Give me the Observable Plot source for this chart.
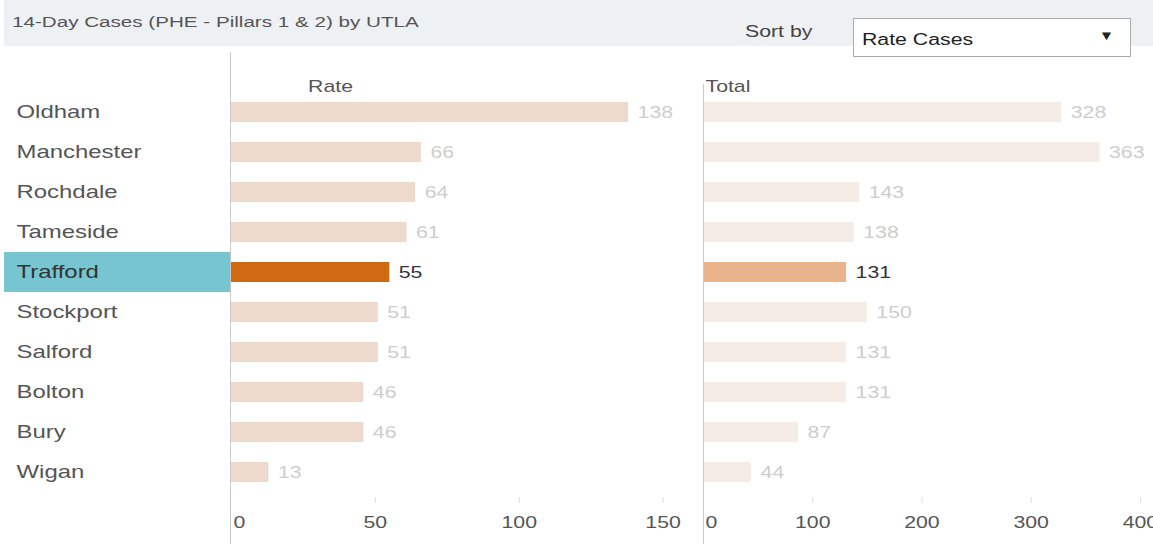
<!DOCTYPE html>
<html><head><meta charset="utf-8">
<script src="https://cdn.jsdelivr.net/npm/d3@7"></script>
<script src="https://cdn.jsdelivr.net/npm/@observablehq/plot@0.6"></script>
<style>
body{margin:0;background:#fff;font-family:"Liberation Sans",Arial,sans-serif;width:1153px;height:544px;overflow:hidden}
#header{position:relative;height:46px;margin-left:4px;background:#eef1f3}
.s{position:absolute;white-space:nowrap;transform-origin:0 50%;transform:scaleX(1.33);font-size:16px;line-height:18px;color:#555}
#box{position:absolute;left:849px;top:18px;width:276px;height:37px;border:1px solid #aaa;background:#fff;z-index:2}
#arrow{position:absolute;left:246px;top:10px;font-size:13px;line-height:14px;color:#222;transform:scaleX(1.2)}
#charts{display:flex;position:relative}
#charts svg{overflow:visible}
</style></head>
<body>
<div id="header">
  <div class="s" id="title" style="left:8px;top:13px;font-size:15.5px"></div>
  <div class="s" id="sortlbl" style="left:741px;top:23px;color:#444"></div>
  <div id="box">
    <div class="s" id="sortval" style="left:8px;top:12px;color:#222"></div>
    <div id="arrow">▼</div>
  </div>
</div>
<div id="charts"></div>
<script>
const titleText = "14-Day Cases (PHE - Pillars 1 & 2) by UTLA";
const sortLabel = "Sort by";
const sortValue = "Rate Cases";
const areas = ["Oldham","Manchester","Rochdale","Tameside","Trafford","Stockport","Salford","Bolton","Bury","Wigan"];
const rateValues = [138,66,64,61,55,51,51,46,46,13];
const totalValues = [328,363,143,138,131,150,131,131,87,44];
const selected = "Trafford";
const rateTicks = [0,50,100,150];
const totalTicks = [0,100,200,300,400];
const panelTitles = ["Rate","Total"];

document.getElementById("title").textContent = titleText;
document.getElementById("sortlbl").textContent = sortLabel;
document.getElementById("sortval").textContent = sortValue;

const rows = areas.map((a,i)=>({area:a, rate:rateValues[i], total:totalValues[i]}));
const SX = 1.33;
const font = '"Liberation Sans", Arial, sans-serif';
const isSel = d => d.area === selected;

function stretch(svg){
  svg.querySelectorAll("text").forEach(t=>{
    const tr = t.getAttribute("transform");
    if (tr) t.setAttribute("transform", tr + ` scale(${SX},1)`);
  });
  return svg;
}

const common = {
  height: 498, marginTop: 46, marginBottom: 52,
  y: {domain: areas, padding: 0, axis: null},
  color: {type: "identity"},
  style: {fontFamily: font, fontSize: "16px", color: "#555", background: "transparent", overflow: "visible"}
};

const left = Plot.plot({
  ...common,
  width: 700, marginLeft: 231, marginRight: 0,
  x: {domain: [0,163], axis: null, label: null},
  marks: [
    Plot.barX(rows.filter(isSel), {x1: 0, x2: 0, y: "area", fill: "#76c5d0", insetLeft: -227}),
    Plot.text(rows, {y: "area", text: "area", frameAnchor: "left", dx: -215, textAnchor: "start",
      fontSize: 18, fill: d => isSel(d) ? "#333" : "#555"}),
    Plot.barX(rows, {x: "rate", y: "area", insetTop: 10, insetBottom: 10,
      fill: d => isSel(d) ? "#cf6a12" : "#eddacc"}),
    Plot.text(rows, {x: "rate", y: "area", text: d => String(d.rate), dx: 9, textAnchor: "start",
      fill: d => isSel(d) ? "#333" : "#cdcdcd"}),
    Plot.ruleX([0], {stroke: "#c8c8c8", insetTop: -40, insetBottom: -52, dx: -1}),
    Plot.text([panelTitles[0]], {frameAnchor: "top-left", dx: 99, dy: -6, textAnchor: "middle", lineAnchor: "middle", fill: "#555"}),
    Plot.axisX(rateTicks.slice(1), {anchor: "bottom", tickSize: 6, tickPadding: 13, dy: 5, stroke: "#ddd", fill: "#555", label: null}),
    Plot.axisX(rateTicks.slice(0,1), {anchor: "bottom", tickSize: 0, tickPadding: 19, dy: 5, dx: 2, textAnchor: "start", fill: "#555", label: null})
  ]
});

const right = Plot.plot({
  ...common,
  width: 453, marginLeft: 3, marginRight: 0,
  x: {domain: [0,412], axis: null, label: null},
  marks: [
    Plot.barX(rows, {x: "total", y: "area", insetTop: 10, insetBottom: 10,
      fill: d => isSel(d) ? "#e9b48b" : "#f6ece6"}),
    Plot.text(rows, {x: "total", y: "area", text: d => String(d.total), dx: 9, textAnchor: "start",
      fill: d => isSel(d) ? "#333" : "#cdcdcd"}),
    Plot.ruleX([0], {stroke: "#c8c8c8", insetTop: -8, insetBottom: -52}),
    Plot.text([panelTitles[1]], {frameAnchor: "top-left", dx: 2, dy: -6, textAnchor: "start", lineAnchor: "middle", fill: "#555"}),
    Plot.axisX(totalTicks.slice(1), {anchor: "bottom", tickSize: 6, tickPadding: 13, dy: 5, stroke: "#ddd", fill: "#555", label: null}),
    Plot.axisX(totalTicks.slice(0,1), {anchor: "bottom", tickSize: 0, tickPadding: 19, dy: 5, dx: 2, textAnchor: "start", fill: "#555", label: null})
  ]
});

const c = document.getElementById("charts");
c.appendChild(stretch(left));
c.appendChild(stretch(right));
</script>
</body></html>
